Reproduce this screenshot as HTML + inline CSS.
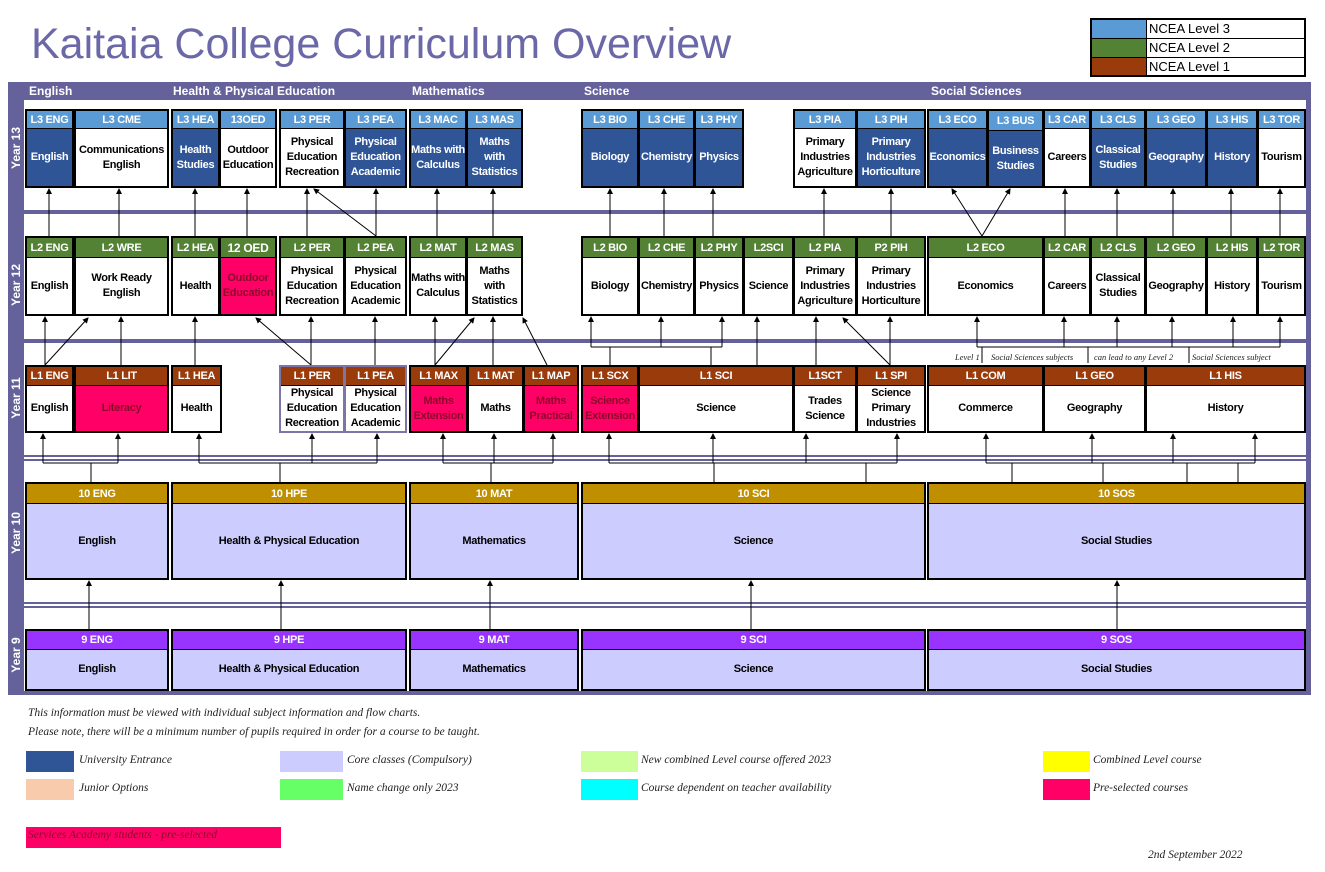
<!DOCTYPE html>
<html><head><meta charset="utf-8">
<style>
*{box-sizing:border-box;margin:0;padding:0}
body{width:1325px;height:872px;background:#fff;position:relative;overflow:hidden;font-family:"Liberation Sans",Arial,sans-serif}
.a{position:absolute}
.c{position:absolute;border:2px solid #000;display:flex;flex-direction:column;background:#000}
.h{color:#fff;font-weight:bold;font-size:11px;display:flex;align-items:center;justify-content:center;letter-spacing:-0.3px;white-space:nowrap;border-bottom:1px solid #000}
.b{flex:1;display:flex;align-items:center;justify-content:center;text-align:center;font-weight:bold;font-size:11px;line-height:15px;letter-spacing:-0.3px;background:#fff;color:#000}
.l3{background:#5b9bd5}.l2{background:#548235}.l1{background:#9a3b0b}.y10{background:#bf8f00}.y9{background:#9933ff}
.ue{background:#2f5597;color:#fff}.pk{background:#ff0066;color:#8b0a2a}.core{background:#ccccff}
.sec{position:absolute;top:84px;color:#fff;font-weight:bold;font-size:12px}
.yr{position:absolute;left:16px;color:#fff;font-weight:bold;font-size:12px;transform:translate(-50%,-50%) rotate(-90deg);white-space:nowrap}
.sep{position:absolute;left:24px;width:1282px;background:#65619a}
.ft{position:absolute;font-family:"Liberation Serif",serif;font-style:italic;font-size:11.5px;color:#222;white-space:nowrap}
.sw{position:absolute;height:21px}
</style></head><body>
<div class="a" style="left:31px;top:20px;font-size:43px;color:#6b68a8">Kaitaia College Curriculum Overview</div>
<div class="a" style="left:1090px;top:18px;width:216px;height:59px;border:2px solid #000;background:#000">
<div class="a" style="left:0;top:0;width:54px;height:18px;background:#5b9bd5"></div>
<div class="a" style="left:0;top:19px;width:54px;height:18px;background:#548235"></div>
<div class="a" style="left:0;top:38px;width:54px;height:17px;background:#9a3b0b"></div>
<div class="a" style="left:55px;top:0;width:157px;height:18px;background:#fff;font-size:13px;line-height:18px;padding-left:2px">NCEA Level 3</div>
<div class="a" style="left:55px;top:19px;width:157px;height:18px;background:#fff;font-size:13px;line-height:18px;padding-left:2px">NCEA Level 2</div>
<div class="a" style="left:55px;top:38px;width:157px;height:17px;background:#fff;font-size:13px;line-height:17px;padding-left:2px">NCEA Level 1</div>
</div>
<!-- frame -->
<div class="a" style="left:8px;top:82px;width:1303px;height:613px;background:#65619a"></div>
<div class="a" style="left:24px;top:100px;width:1282px;height:591px;background:#fff"></div>
<div class="sec" style="left:29px">English</div>
<div class="sec" style="left:173px">Health &amp; Physical Education</div>
<div class="sec" style="left:412px">Mathematics</div>
<div class="sec" style="left:584px">Science</div>
<div class="sec" style="left:931px">Social Sciences</div>
<div class="yr" style="top:148px">Year 13</div>
<div class="yr" style="top:285px">Year 12</div>
<div class="yr" style="top:398px">Year 11</div>
<div class="yr" style="top:533px">Year 10</div>
<div class="yr" style="top:655px">Year 9</div>
<div class="sep" style="top:210px;height:4px"></div>
<div class="sep" style="top:339px;height:4px"></div>
<div class="sep" style="top:455px;height:2px"></div>
<div class="sep" style="top:459px;height:2px"></div>
<div class="sep" style="top:602px;height:2px"></div>
<div class="sep" style="top:606px;height:2px"></div>

<!-- Year 13 -->
<div class="c" style="left:25px;top:109px;width:49px;height:79px"><div class="h l3" style="height:18px">L3 ENG</div><div class="b ue">English</div></div>
<div class="c" style="left:74px;top:109px;width:95px;height:79px"><div class="h l3" style="height:18px">L3 CME</div><div class="b">Communications<br>English</div></div>
<div class="c" style="left:171px;top:109px;width:49px;height:79px"><div class="h l3" style="height:18px">L3 HEA</div><div class="b ue">Health<br>Studies</div></div>
<div class="c" style="left:219px;top:109px;width:58px;height:79px"><div class="h l3" style="height:18px">13OED</div><div class="b">Outdoor<br>Education</div></div>
<div class="c" style="left:279px;top:109px;width:66px;height:79px"><div class="h l3" style="height:18px">L3 PER</div><div class="b">Physical<br>Education<br>Recreation</div></div>
<div class="c" style="left:344px;top:109px;width:63px;height:79px"><div class="h l3" style="height:18px">L3 PEA</div><div class="b ue">Physical<br>Education<br>Academic</div></div>
<div class="c" style="left:409px;top:109px;width:58px;height:79px"><div class="h l3" style="height:18px">L3 MAC</div><div class="b ue">Maths with<br>Calculus</div></div>
<div class="c" style="left:466px;top:109px;width:57px;height:79px"><div class="h l3" style="height:18px">L3 MAS</div><div class="b ue">Maths<br>with<br>Statistics</div></div>
<div class="c" style="left:581px;top:109px;width:58px;height:79px"><div class="h l3" style="height:18px">L3 BIO</div><div class="b ue">Biology</div></div>
<div class="c" style="left:638px;top:109px;width:57px;height:79px"><div class="h l3" style="height:18px">L3 CHE</div><div class="b ue">Chemistry</div></div>
<div class="c" style="left:694px;top:109px;width:50px;height:79px"><div class="h l3" style="height:18px">L3 PHY</div><div class="b ue">Physics</div></div>
<div class="c" style="left:793px;top:109px;width:64px;height:79px"><div class="h l3" style="height:18px">L3 PIA</div><div class="b">Primary<br>Industries<br>Agriculture</div></div>
<div class="c" style="left:856px;top:109px;width:70px;height:79px"><div class="h l3" style="height:18px">L3 PIH</div><div class="b ue">Primary<br>Industries<br>Horticulture</div></div>
<div class="c" style="left:927px;top:109px;width:61px;height:79px"><div class="h l3" style="height:18px">L3 ECO</div><div class="b ue">Economics</div></div>
<div class="c" style="left:987px;top:109px;width:57px;height:79px"><div class="h l3" style="height:20px">L3 BUS</div><div class="b ue">Business<br>Studies</div></div>
<div class="c" style="left:1043px;top:109px;width:48px;height:79px"><div class="h l3" style="height:18px">L3 CAR</div><div class="b">Careers</div></div>
<div class="c" style="left:1090px;top:109px;width:56px;height:79px"><div class="h l3" style="height:18px">L3 CLS</div><div class="b ue">Classical<br>Studies</div></div>
<div class="c" style="left:1145px;top:109px;width:62px;height:79px"><div class="h l3" style="height:18px">L3 GEO</div><div class="b ue">Geography</div></div>
<div class="c" style="left:1206px;top:109px;width:52px;height:79px"><div class="h l3" style="height:18px">L3 HIS</div><div class="b ue">History</div></div>
<div class="c" style="left:1257px;top:109px;width:49px;height:79px"><div class="h l3" style="height:18px">L3 TOR</div><div class="b">Tourism</div></div>

<!-- Year 12 -->
<div class="c" style="left:25px;top:236px;width:49px;height:80px"><div class="h l2" style="height:20px">L2 ENG</div><div class="b">English</div></div>
<div class="c" style="left:74px;top:236px;width:95px;height:80px"><div class="h l2" style="height:20px">L2 WRE</div><div class="b">Work Ready<br>English</div></div>
<div class="c" style="left:171px;top:236px;width:49px;height:80px"><div class="h l2" style="height:20px">L2 HEA</div><div class="b">Health</div></div>
<div class="c" style="left:219px;top:236px;width:58px;height:80px"><div class="h l2" style="height:20px;font-size:12px">12 OED</div><div class="b pk">Outdoor<br>Education</div></div>
<div class="c" style="left:279px;top:236px;width:66px;height:80px"><div class="h l2" style="height:20px">L2 PER</div><div class="b">Physical<br>Education<br>Recreation</div></div>
<div class="c" style="left:344px;top:236px;width:63px;height:80px"><div class="h l2" style="height:20px">L2 PEA</div><div class="b">Physical<br>Education<br>Academic</div></div>
<div class="c" style="left:409px;top:236px;width:58px;height:80px"><div class="h l2" style="height:20px">L2 MAT</div><div class="b">Maths with<br>Calculus</div></div>
<div class="c" style="left:466px;top:236px;width:57px;height:80px"><div class="h l2" style="height:20px">L2 MAS</div><div class="b">Maths<br>with<br>Statistics</div></div>
<div class="c" style="left:581px;top:236px;width:58px;height:80px"><div class="h l2" style="height:20px">L2 BIO</div><div class="b">Biology</div></div>
<div class="c" style="left:638px;top:236px;width:57px;height:80px"><div class="h l2" style="height:20px">L2 CHE</div><div class="b">Chemistry</div></div>
<div class="c" style="left:694px;top:236px;width:50px;height:80px"><div class="h l2" style="height:20px">L2 PHY</div><div class="b">Physics</div></div>
<div class="c" style="left:743px;top:236px;width:51px;height:80px"><div class="h l2" style="height:20px">L2SCI</div><div class="b">Science</div></div>
<div class="c" style="left:793px;top:236px;width:64px;height:80px"><div class="h l2" style="height:20px">L2 PIA</div><div class="b">Primary<br>Industries<br>Agriculture</div></div>
<div class="c" style="left:856px;top:236px;width:70px;height:80px"><div class="h l2" style="height:20px">P2 PIH</div><div class="b">Primary<br>Industries<br>Horticulture</div></div>
<div class="c" style="left:927px;top:236px;width:117px;height:80px"><div class="h l2" style="height:20px">L2 ECO</div><div class="b">Economics</div></div>
<div class="c" style="left:1043px;top:236px;width:48px;height:80px"><div class="h l2" style="height:20px">L2 CAR</div><div class="b">Careers</div></div>
<div class="c" style="left:1090px;top:236px;width:56px;height:80px"><div class="h l2" style="height:20px">L2 CLS</div><div class="b">Classical<br>Studies</div></div>
<div class="c" style="left:1145px;top:236px;width:62px;height:80px"><div class="h l2" style="height:20px">L2 GEO</div><div class="b">Geography</div></div>
<div class="c" style="left:1206px;top:236px;width:52px;height:80px"><div class="h l2" style="height:20px">L2 HIS</div><div class="b">History</div></div>
<div class="c" style="left:1257px;top:236px;width:49px;height:80px"><div class="h l2" style="height:20px">L2 TOR</div><div class="b">Tourism</div></div>

<!-- Year 11 -->
<div class="c" style="left:25px;top:365px;width:49px;height:68px"><div class="h l1" style="height:19px">L1 ENG</div><div class="b">English</div></div>
<div class="c" style="left:74px;top:365px;width:95px;height:68px"><div class="h l1" style="height:19px">L1 LIT</div><div class="b pk">Literacy</div></div>
<div class="c" style="left:171px;top:365px;width:51px;height:68px"><div class="h l1" style="height:19px">L1 HEA</div><div class="b">Health</div></div>
<div class="c" style="left:279px;top:365px;width:66px;height:68px;border-color:#7a76a8;background:#7a76a8"><div class="h l1" style="height:19px">L1 PER</div><div class="b">Physical<br>Education<br>Recreation</div></div>
<div class="c" style="left:344px;top:365px;width:63px;height:68px;border-color:#7a76a8;background:#7a76a8"><div class="h l1" style="height:19px">L1 PEA</div><div class="b">Physical<br>Education<br>Academic</div></div>
<div class="c" style="left:409px;top:365px;width:59px;height:68px"><div class="h l1" style="height:19px">L1 MAX</div><div class="b pk">Maths<br>Extension</div></div>
<div class="c" style="left:467px;top:365px;width:57px;height:68px"><div class="h l1" style="height:19px">L1 MAT</div><div class="b">Maths</div></div>
<div class="c" style="left:523px;top:365px;width:56px;height:68px"><div class="h l1" style="height:19px">L1 MAP</div><div class="b pk">Maths<br>Practical</div></div>
<div class="c" style="left:581px;top:365px;width:58px;height:68px"><div class="h l1" style="height:19px">L1 SCX</div><div class="b pk">Science<br>Extension</div></div>
<div class="c" style="left:638px;top:365px;width:156px;height:68px"><div class="h l1" style="height:19px">L1 SCI</div><div class="b">Science</div></div>
<div class="c" style="left:793px;top:365px;width:64px;height:68px"><div class="h l1" style="height:19px">L1SCT</div><div class="b">Trades<br>Science</div></div>
<div class="c" style="left:856px;top:365px;width:70px;height:68px"><div class="h l1" style="height:19px">L1 SPI</div><div class="b">Science<br>Primary<br>Industries</div></div>
<div class="c" style="left:927px;top:365px;width:117px;height:68px"><div class="h l1" style="height:19px">L1 COM</div><div class="b">Commerce</div></div>
<div class="c" style="left:1043px;top:365px;width:103px;height:68px"><div class="h l1" style="height:19px">L1 GEO</div><div class="b">Geography</div></div>
<div class="c" style="left:1145px;top:365px;width:161px;height:68px"><div class="h l1" style="height:19px">L1 HIS</div><div class="b">History</div></div>

<!-- Year 10 -->
<div class="c" style="left:25px;top:482px;width:144px;height:98px"><div class="h y10" style="height:20px">10 ENG</div><div class="b core">English</div></div>
<div class="c" style="left:171px;top:482px;width:236px;height:98px"><div class="h y10" style="height:20px">10 HPE</div><div class="b core">Health &amp; Physical Education</div></div>
<div class="c" style="left:409px;top:482px;width:170px;height:98px"><div class="h y10" style="height:20px">10 MAT</div><div class="b core">Mathematics</div></div>
<div class="c" style="left:581px;top:482px;width:345px;height:98px"><div class="h y10" style="height:20px">10 SCI</div><div class="b core">Science</div></div>
<div class="c" style="left:927px;top:482px;width:379px;height:98px"><div class="h y10" style="height:20px">10 SOS</div><div class="b core">Social Studies</div></div>

<!-- Year 9 -->
<div class="c" style="left:25px;top:629px;width:144px;height:62px"><div class="h y9" style="height:19px">9 ENG</div><div class="b core">English</div></div>
<div class="c" style="left:171px;top:629px;width:236px;height:62px"><div class="h y9" style="height:19px">9 HPE</div><div class="b core">Health &amp; Physical Education</div></div>
<div class="c" style="left:409px;top:629px;width:170px;height:62px"><div class="h y9" style="height:19px">9 MAT</div><div class="b core">Mathematics</div></div>
<div class="c" style="left:581px;top:629px;width:345px;height:62px"><div class="h y9" style="height:19px">9 SCI</div><div class="b core">Science</div></div>
<div class="c" style="left:927px;top:629px;width:379px;height:62px"><div class="h y9" style="height:19px">9 SOS</div><div class="b core">Social Studies</div></div>

<svg class="a" style="left:0;top:0" width="1325" height="872">
<defs><marker id="m" markerWidth="6" markerHeight="6" refX="5" refY="3" orient="auto"><path d="M0,0 L6,3 L0,6 z" fill="#000"/></marker></defs>
<g stroke="#000" stroke-width="1" fill="none" marker-end="url(#m)">
<line x1="49" y1="236" x2="49" y2="189"/><line x1="119" y1="236" x2="119" y2="189"/>
<line x1="195" y1="236" x2="195" y2="189"/><line x1="247" y1="236" x2="247" y2="189"/>
<line x1="307" y1="236" x2="307" y2="189"/><line x1="376" y1="236" x2="376" y2="189"/>
<line x1="376" y1="236" x2="314" y2="189"/>
<line x1="437" y1="236" x2="437" y2="189"/><line x1="493" y1="236" x2="493" y2="189"/>
<line x1="610" y1="236" x2="610" y2="189"/><line x1="664" y1="236" x2="664" y2="189"/><line x1="713" y1="236" x2="713" y2="189"/>
<line x1="824" y1="236" x2="824" y2="189"/><line x1="891" y1="236" x2="891" y2="189"/>
<line x1="982" y1="236" x2="952" y2="189"/><line x1="982" y1="236" x2="1010" y2="189"/>
<line x1="1065" y1="236" x2="1065" y2="189"/><line x1="1117" y1="236" x2="1117" y2="189"/>
<line x1="1173" y1="236" x2="1173" y2="189"/><line x1="1231" y1="236" x2="1231" y2="189"/><line x1="1280" y1="236" x2="1280" y2="189"/>
<line x1="45" y1="365" x2="45" y2="317"/><line x1="45" y1="365" x2="88" y2="318"/>
<line x1="121" y1="365" x2="121" y2="317"/><line x1="195" y1="365" x2="195" y2="317"/>
<line x1="311" y1="365" x2="311" y2="317"/><line x1="311" y1="365" x2="256" y2="318"/>
<line x1="375" y1="365" x2="375" y2="317"/>
<line x1="435" y1="365" x2="435" y2="317"/><line x1="435" y1="365" x2="474" y2="318"/>
<line x1="493" y1="365" x2="493" y2="317"/><line x1="547" y1="365" x2="523" y2="318"/>
<line x1="591" y1="347" x2="591" y2="317"/><line x1="661" y1="347" x2="661" y2="317"/><line x1="722" y1="347" x2="722" y2="317"/>
<line x1="757" y1="365" x2="757" y2="317"/><line x1="816" y1="365" x2="816" y2="317"/>
<line x1="890" y1="365" x2="890" y2="317"/><line x1="890" y1="365" x2="843" y2="318"/>
<line x1="977" y1="347" x2="977" y2="317"/><line x1="1064" y1="347" x2="1064" y2="317"/><line x1="1117" y1="347" x2="1117" y2="317"/>
<line x1="1172" y1="347" x2="1172" y2="317"/><line x1="1233" y1="347" x2="1233" y2="317"/><line x1="1280" y1="347" x2="1280" y2="317"/>
<line x1="43" y1="463" x2="43" y2="434"/><line x1="118" y1="463" x2="118" y2="434"/>
<line x1="199" y1="463" x2="199" y2="434"/><line x1="312" y1="463" x2="312" y2="434"/><line x1="377" y1="463" x2="377" y2="434"/>
<line x1="443" y1="463" x2="443" y2="434"/><line x1="494" y1="463" x2="494" y2="434"/><line x1="553" y1="463" x2="553" y2="434"/>
<line x1="609" y1="463" x2="609" y2="434"/><line x1="713" y1="463" x2="713" y2="434"/><line x1="806" y1="463" x2="806" y2="434"/><line x1="897" y1="463" x2="897" y2="434"/>
<line x1="986" y1="463" x2="986" y2="434"/><line x1="1092" y1="463" x2="1092" y2="434"/><line x1="1173" y1="463" x2="1173" y2="434"/><line x1="1255" y1="463" x2="1255" y2="434"/>
<line x1="89" y1="629" x2="89" y2="581"/><line x1="281" y1="629" x2="281" y2="581"/><line x1="490" y1="629" x2="490" y2="581"/>
<line x1="751" y1="629" x2="751" y2="581"/><line x1="1117" y1="629" x2="1117" y2="581"/>
</g>
<g stroke="#000" stroke-width="1" fill="none">
<line x1="591" y1="347" x2="722" y2="347"/><line x1="610" y1="347" x2="610" y2="365"/><line x1="711" y1="347" x2="711" y2="365"/>
<line x1="977" y1="347" x2="1280" y2="347"/>
<line x1="982" y1="347" x2="982" y2="363"/><line x1="1088" y1="347" x2="1088" y2="363"/><line x1="1189" y1="347" x2="1189" y2="363"/>
<line x1="43" y1="463" x2="118" y2="463"/><line x1="91" y1="463" x2="91" y2="482"/>
<line x1="199" y1="463" x2="377" y2="463"/><line x1="280" y1="463" x2="280" y2="482"/>
<line x1="443" y1="463" x2="553" y2="463"/><line x1="491" y1="463" x2="491" y2="482"/>
<line x1="609" y1="463" x2="897" y2="463"/><line x1="714" y1="463" x2="714" y2="482"/><line x1="866" y1="463" x2="866" y2="482"/>
<line x1="986" y1="463" x2="1255" y2="463"/><line x1="1012" y1="463" x2="1012" y2="482"/><line x1="1103" y1="463" x2="1103" y2="482"/><line x1="1187" y1="463" x2="1187" y2="482"/><line x1="1238" y1="463" x2="1238" y2="482"/>
</g>
<g font-family="Liberation Serif,serif" font-style="italic" font-size="8.5" fill="#222">
<text x="955" y="360">Level 1</text><text x="991" y="360">Social Sciences subjects</text>
<text x="1094" y="360">can lead to any Level 2</text><text x="1192" y="360">Social Sciences subject</text>
</g>
</svg>

<div class="ft" style="left:28px;top:707px">This information must be viewed with individual subject information and flow charts.</div>
<div class="ft" style="left:28px;top:726px">Please note, there will be a minimum number of pupils required in order for a course to be taught.</div>
<div class="sw" style="left:26px;top:751px;width:48px;background:#2f5597"></div><div class="ft" style="left:79px;top:754px">University Entrance</div>
<div class="sw" style="left:280px;top:751px;width:63px;background:#ccccff"></div><div class="ft" style="left:347px;top:754px">Core classes (Compulsory)</div>
<div class="sw" style="left:581px;top:751px;width:57px;background:#ccff99"></div><div class="ft" style="left:641px;top:754px">New combined Level course offered 2023</div>
<div class="sw" style="left:1043px;top:751px;width:47px;background:#ffff00"></div><div class="ft" style="left:1093px;top:754px">Combined Level course</div>
<div class="sw" style="left:26px;top:779px;width:48px;background:#f8cbad"></div><div class="ft" style="left:79px;top:782px">Junior Options</div>
<div class="sw" style="left:280px;top:779px;width:63px;background:#66ff66"></div><div class="ft" style="left:347px;top:782px">Name change only 2023</div>
<div class="sw" style="left:581px;top:779px;width:57px;background:#00ffff"></div><div class="ft" style="left:641px;top:782px">Course dependent on teacher availability</div>
<div class="sw" style="left:1043px;top:779px;width:47px;background:#ff0066"></div><div class="ft" style="left:1093px;top:782px">Pre-selected courses</div>
<div class="sw" style="left:26px;top:827px;width:255px;background:#ff0066"></div><div class="ft" style="left:28px;top:829px;color:#8b0a2a">Services Academy students - pre-selected</div>
<div class="ft" style="left:1148px;top:849px">2nd September 2022</div>
</body></html>
